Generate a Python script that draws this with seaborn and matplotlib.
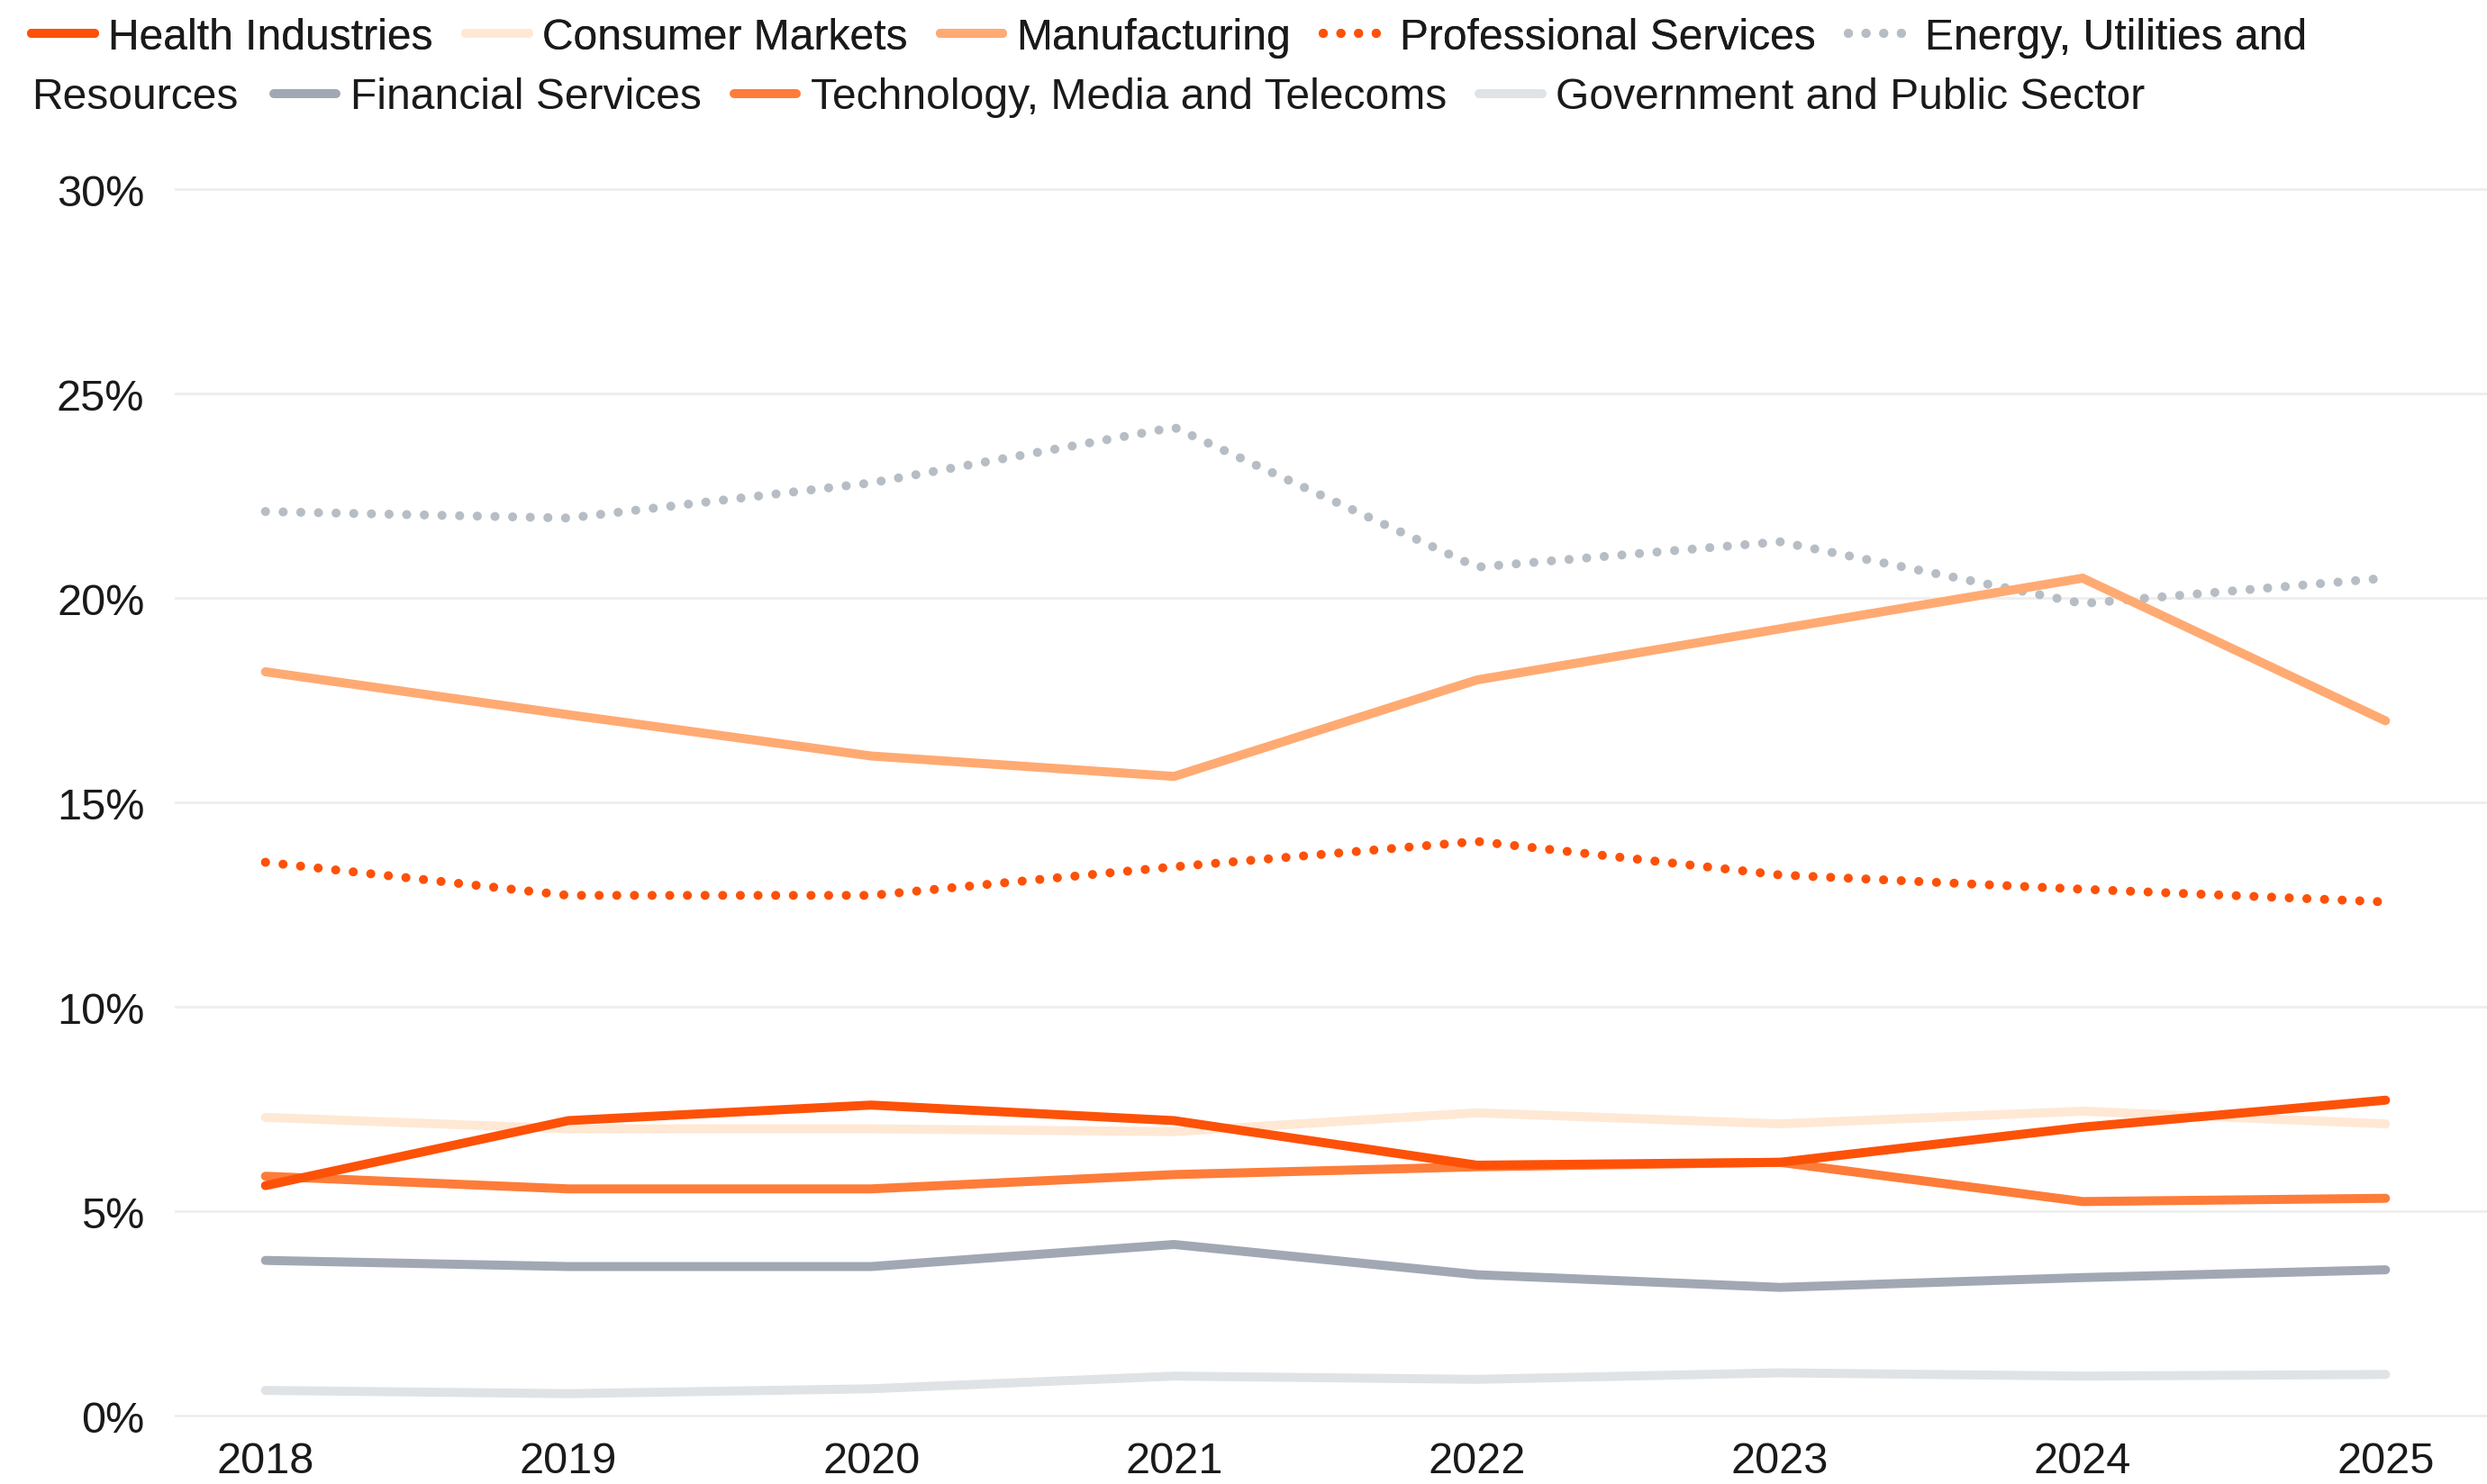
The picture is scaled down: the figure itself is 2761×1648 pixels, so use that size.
import seaborn as sns
import numpy as np
import pandas as pd
import matplotlib.pyplot as plt
from matplotlib.lines import Line2D

years = [2018, 2019, 2020, 2021, 2022, 2023, 2024, 2025]

sectors = ["Health Industries", "Consumer Markets", "Manufacturing", "Professional Services",
           "Energy, Utilities and Resources", "Financial Services",
           "Technology, Media and Telecoms", "Government and Public Sector"]

health = [5.63, 7.22, 7.6, 7.22, 6.13, 6.2, 7.06, 7.72]
consumer = [7.3, 7.02, 7.02, 6.95, 7.41, 7.14, 7.45, 7.14]
manufacturing = [18.2, 17.15, 16.14, 15.64, 18.0, 19.25, 20.49, 17.0]
professional = [13.54, 12.73, 12.73, 13.43, 14.05, 13.23, 12.88, 12.57]
energy = [22.12, 21.96, 22.82, 24.18, 20.76, 21.38, 19.87, 20.49]
financial = [3.8, 3.65, 3.65, 4.19, 3.45, 3.14, 3.38, 3.57]
tech = [5.86, 5.55, 5.55, 5.9, 6.09, 6.2, 5.24, 5.32]
government = [0.62, 0.54, 0.66, 0.97, 0.89, 1.05, 0.97, 1.01]

values = [health, consumer, manufacturing, professional, energy, financial, tech, government]

colors = ["#FD5108", "#FFE8D4", "#FFAA72", "#FD5108", "#B7BDC4", "#A1A8B3", "#FE7C39", "#DFE3E6"]
dotted = [False, False, False, True, True, False, False, False]

rows = []
for name, vals in zip(sectors, values):
    for y, v in zip(years, vals):
        rows.append({"year": y, "sector": name, "share": v})
df = pd.DataFrame(rows)

LW = 3.6
DOT = (0.01, 1.95)
palette = dict(zip(sectors, colors))
is_dotted = dict(zip(sectors, dotted))

sns.set_style("white")
plt.rcParams["font.family"] = ["Liberation Sans", "DejaVu Sans"]

fig = plt.figure(figsize=(13.805, 8.245), dpi=200)
ax = fig.add_axes([0.0702, 0.0322, 0.9298, 0.8534])

# draw back to front so the darker lines sit on top
order = ["Government and Public Sector", "Consumer Markets", "Energy, Utilities and Resources",
         "Manufacturing", "Financial Services", "Technology, Media and Telecoms",
         "Professional Services", "Health Industries"]
for s in order:
    sub = df[df["sector"] == s]
    sns.lineplot(data=sub, x="year", y="share", color=palette[s], linewidth=LW,
                 ax=ax, legend=False)
    ln = ax.lines[-1]
    if is_dotted[s]:
        ln.set_dashes(DOT)
    ln.set_dash_capstyle("round")
    ln.set_solid_capstyle("round")
    ln.set_solid_joinstyle("miter")

ax.set_xlim(2017.70, 2025.335)
ax.set_ylim(-0.5, 30.5)
ax.set_yticks(range(0, 31, 5))
ax.set_yticklabels([f"{v}%" for v in range(0, 31, 5)])
ax.set_xticks(years)
ax.set_xticklabels([str(y) for y in years])
ax.set_xlabel("")
ax.set_ylabel("")
for sp in ax.spines.values():
    sp.set_visible(False)
ax.grid(axis="y", color="#EEEEEE", linewidth=1.0)
ax.grid(axis="x", visible=False)
ax.tick_params(axis="y", length=0, pad=12, labelsize=17.5, labelcolor="#1a1a1a")
ax.tick_params(axis="x", length=0, pad=2, labelsize=17.5, labelcolor="#1a1a1a")

def handle(i):
    if dotted[i]:
        h = Line2D([0], [0], color=colors[i], linewidth=LW, dashes=DOT,
                   dash_capstyle="round")
    else:
        h = Line2D([0], [0], color=colors[i], linewidth=LW, solid_capstyle="round")
    return h

row1 = [0, 1, 2, 3, 4]
row2 = [5, 6, 7]
labels1 = [sectors[i] for i in row1]
labels1[4] = "Energy, Utilities and"
common = dict(frameon=False, borderpad=0, borderaxespad=0, handlelength=1.45,
              handletextpad=0.32, columnspacing=0.75, fontsize=17.3,
              labelcolor="#1a1a1a", loc="center left")
leg1 = fig.legend([handle(i) for i in row1], labels1, ncol=5,
                  bbox_to_anchor=(0.0128, 0.9745), **common)
fig.text(0.0128, 0.934, "Resources", fontsize=17.3, color="#1a1a1a", va="center", ha="left")
leg2 = fig.legend([handle(i) for i in row2], [sectors[i] for i in row2], ncol=3,
                  bbox_to_anchor=(0.110, 0.934), **common)
fig.add_artist(leg1)

fig.savefig("out.png", dpi=200)
